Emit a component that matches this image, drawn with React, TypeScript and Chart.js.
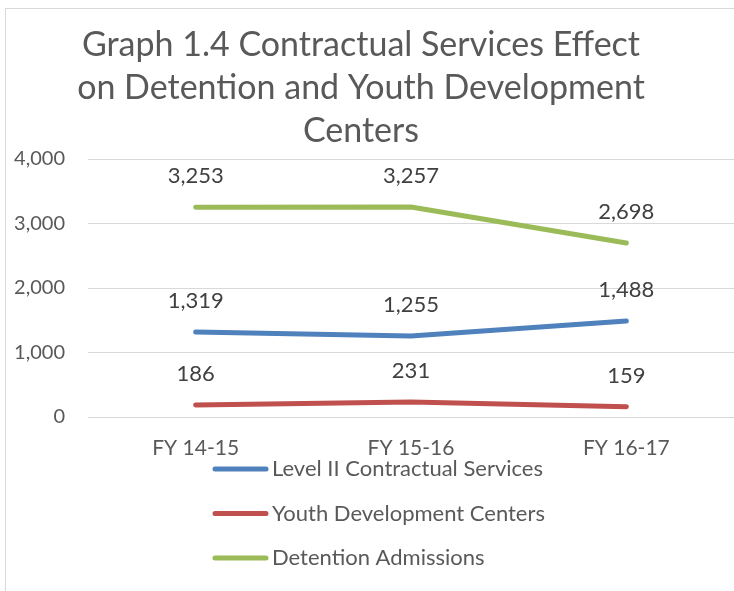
import React, { useEffect, useRef } from "react";
import { Chart, registerables } from "chart.js";

Chart.register(...registerables);

const categories = ["FY 14-15", "FY 15-16", "FY 16-17"];
const level2Values = [1319, 1255, 1488];
const ydcValues = [186, 231, 159];
const detentionValues = [3253, 3257, 2698];
const seriesNames = [
  "Level II Contractual Services",
  "Youth Development Centers",
  "Detention Admissions",
];
const seriesColors = ["#4f81bd", "#c0504d", "#9bbb59"];
const titleLines = [
  "Graph 1.4 Contractual Services Effect",
  "on Detention and Youth Development",
  "Centers",
];
const yMin = 0;
const yMax = 4000;
const yStep = 1000;

const FONT = "Lato";
const fmt = (v: number) => v.toLocaleString("en-US");

const decorPlugin = {
  id: "decor",
  afterDraw(chart: any) {
    const ctx = chart.ctx as CanvasRenderingContext2D;
    ctx.save();
    // title
    ctx.fillStyle = "#595959";
    ctx.font = `34px ${FONT}`;
    ctx.textAlign = "center";
    ctx.textBaseline = "middle";
    titleLines.forEach((t, i) => ctx.fillText(t, 361, 45 + i * 43));

    // data labels
    ctx.fillStyle = "#404040";
    ctx.font = `22px ${FONT}`;
    chart.data.datasets.forEach((ds: any, di: number) => {
      const meta = chart.getDatasetMeta(di);
      meta.data.forEach((pt: any, i: number) => {
        ctx.fillText(fmt(ds.data[i]), pt.x, pt.y - 31);
      });
    });

    // legend
    chart.data.datasets.forEach((ds: any, i: number) => {
      const y = 469 + i * 44.5;
      ctx.strokeStyle = ds.borderColor;
      ctx.lineWidth = 5;
      ctx.lineCap = "round";
      ctx.beginPath();
      ctx.moveTo(215, y);
      ctx.lineTo(266, y);
      ctx.stroke();
      ctx.fillStyle = "#595959";
      ctx.font = `22px ${FONT}`;
      ctx.textAlign = "left";
      ctx.fillText(ds.label, 272, y);
    });
    ctx.restore();
  },
};

export default function App() {
  const ref = useRef<HTMLCanvasElement>(null);

  useEffect(() => {
    if (!ref.current) return;
    const mk = (label: string, data: number[], color: string) => ({
      label,
      data,
      borderColor: color,
      backgroundColor: color,
      borderWidth: 5,
      borderCapStyle: "round" as const,
      borderJoinStyle: "round" as const,
      pointRadius: 0,
      pointHoverRadius: 0,
      tension: 0,
    });
    const chart = new Chart(ref.current, {
      type: "line",
      data: {
        labels: categories,
        datasets: [
          mk(seriesNames[0], level2Values, seriesColors[0]),
          mk(seriesNames[1], ydcValues, seriesColors[1]),
          mk(seriesNames[2], detentionValues, seriesColors[2]),
        ],
      },
      options: {
        animation: false,
        responsive: false,
        layout: { padding: { top: 159, left: 0, right: 0, bottom: 104 } },
        plugins: {
          legend: { display: false },
          title: { display: false },
          tooltip: { enabled: false },
        },
        scales: {
          x: {
            offset: true,
            grid: { display: false },
            border: { display: false },
            ticks: {
              color: "#595959",
              font: { family: FONT, size: 21 },
              padding: 11,
            },
            afterFit: (s: any) => {
              s.height = 70;
            },
          },
          y: {
            min: yMin,
            max: yMax,
            grid: { color: "#d9d9d9", lineWidth: 1, drawTicks: false },
            border: { display: false },
            ticks: {
              stepSize: yStep,
              color: "#595959",
              font: { family: FONT, size: 20 },
              padding: 23,
              callback: (v: any) => fmt(Number(v)),
            },
            afterFit: (s: any) => {
              s.width = 88;
            },
          },
        },
      },
      plugins: [decorPlugin],
    });
    return () => chart.destroy();
  }, []);

  return (
    <div
      style={{
        position: "fixed",
        left: 0,
        top: 0,
        width: 734,
        height: 591,
        background: "#ffffff",
        overflow: "hidden",
      }}
    >
      <div
        style={{
          position: "absolute",
          left: 5,
          top: 8,
          width: 780,
          height: 700,
          border: "1px solid #d9d9d9",
        }}
      />
      <canvas
        ref={ref}
        width={734}
        height={591}
        style={{ position: "absolute", left: 0, top: 0, width: 734, height: 591 }}
      />
    </div>
  );
}
